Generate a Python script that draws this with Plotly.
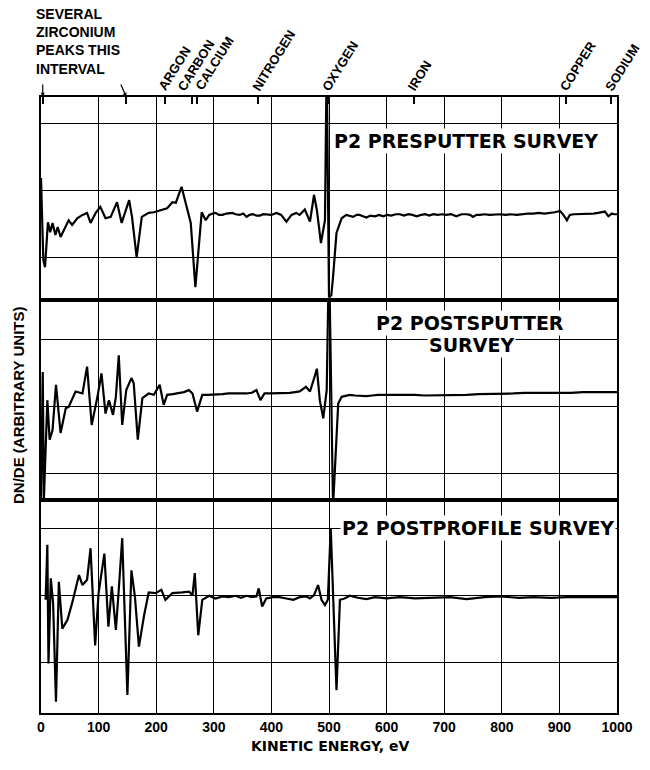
import plotly.graph_objects as go
from plotly.subplots import make_subplots

# ---------------- data (energy in eV, signal in grid divisions above panel bottom) -------------
P1_E = [0, 4, 7, 12, 16, 20, 25, 29, 34, 40, 48, 54, 63, 72, 80, 86, 95, 103, 112, 121, 132, 140,
        153, 158, 166, 175, 187, 196, 205, 212, 219, 228, 234, 244, 251, 260, 268, 275, 279, 286,
        292, 298, 303, 309, 315, 322, 332, 338, 345, 351, 357, 362, 368, 374, 380, 386, 391, 400,
        409, 417, 426, 435, 443, 449, 458, 467, 474, 479, 486, 493, 496, 500, 504, 507, 513, 522,
        530, 536, 542, 548, 553, 559, 565, 572, 580, 587, 594, 601, 608, 616, 623, 630, 638, 645,
        652, 660, 667, 674, 681, 689, 696, 704, 712, 721, 730, 739, 745, 750, 756, 762, 770, 779,
        788, 797, 806, 815, 826, 835, 845, 855, 864, 874, 884, 892, 901, 907, 913, 918, 925, 933,
        941, 950, 959, 967, 974, 979, 985, 991, 995, 1000]
P1_V = [1.82, 0.60, 0.49, 1.16, 1.01, 1.15, 0.97, 1.09, 0.94, 1.04, 1.19, 1.12, 1.22, 1.27, 1.30,
        1.15, 1.30, 1.39, 1.22, 1.24, 1.46, 1.15, 1.49, 1.24, 0.64, 1.24, 1.30, 1.31, 1.33, 1.35,
        1.37, 1.46, 1.45, 1.69, 1.46, 1.15, 0.19, 0.94, 1.31, 1.19, 1.27, 1.29, 1.30, 1.27, 1.27,
        1.29, 1.30, 1.28, 1.27, 1.29, 1.24, 1.27, 1.28, 1.26, 1.26, 1.28, 1.28, 1.27, 1.30, 1.27,
        1.17, 1.27, 1.30, 1.27, 1.35, 1.17, 1.57, 1.34, 0.85, 1.19, 3.60, 0.04, 0.07, 0.34, 1.00,
        1.22, 1.27, 1.25, 1.24, 1.27, 1.27, 1.25, 1.23, 1.26, 1.25, 1.27, 1.25, 1.27, 1.26, 1.28,
        1.28, 1.26, 1.28, 1.27, 1.25, 1.27, 1.28, 1.26, 1.28, 1.27, 1.28, 1.27, 1.28, 1.25, 1.28,
        1.28, 1.27, 1.24, 1.27, 1.27, 1.28, 1.27, 1.28, 1.28, 1.27, 1.28, 1.27, 1.28, 1.29, 1.29,
        1.30, 1.29, 1.30, 1.31, 1.33, 1.27, 1.19, 1.27, 1.28, 1.28, 1.28, 1.29, 1.29, 1.30, 1.31,
        1.32, 1.25, 1.29, 1.28, 1.28]

P2_E = [0, 3, 5, 8, 11, 15, 20, 26, 34, 43, 48, 60, 72, 80, 88, 98, 105, 112, 118, 125, 130, 135,
        141, 148, 157, 161, 168, 176, 187, 196, 206, 213, 219, 229, 239, 248, 257, 263, 271, 280,
        289, 298, 306, 315, 325, 338, 347, 357, 366, 374, 381, 388, 398, 409, 420, 432, 441, 449,
        460, 467, 475, 479, 484, 490, 496, 500, 507, 516, 522, 530, 536, 545, 555, 565, 575, 585,
        600, 615, 635, 650, 665, 681, 700, 720, 739, 760, 780, 797, 820, 840, 855, 880, 901, 920,
        941, 970, 1000]
P2_V = [0.00, 1.91, 0.00, 0.94, 1.49, 0.90, 1.04, 1.72, 1.00, 1.37, 1.39, 1.62, 1.59, 1.99, 1.12,
        1.54, 1.89, 1.29, 1.49, 1.27, 1.54, 2.16, 1.12, 1.64, 1.82, 1.74, 0.90, 1.52, 1.59, 1.57,
        1.72, 1.42, 1.57, 1.58, 1.60, 1.61, 1.64, 1.59, 1.32, 1.57, 1.57, 1.57, 1.58, 1.58, 1.59,
        1.59, 1.58, 1.59, 1.60, 1.64, 1.49, 1.59, 1.59, 1.59, 1.60, 1.60, 1.61, 1.62, 1.69, 1.62,
        1.84, 1.96, 1.49, 1.22, 1.64, 3.70, -0.10, 1.44, 1.54, 1.56, 1.57, 1.56, 1.55, 1.55, 1.56,
        1.57, 1.57, 1.57, 1.58, 1.57, 1.56, 1.56, 1.57, 1.57, 1.57, 1.58, 1.58, 1.58, 1.59, 1.60,
        1.60, 1.59, 1.59, 1.60, 1.61, 1.61, 1.61]

P3_E = [8, 11, 13, 17, 21, 26, 31, 37, 46, 54, 66, 72, 80, 86, 94, 100, 110, 117, 123, 130, 135,
        141, 150, 157, 163, 170, 179, 187, 199, 209, 216, 228, 245, 257, 263, 267, 273, 280, 292,
        303, 315, 326, 338, 347, 357, 366, 374, 378, 384, 391, 403, 414, 426, 438, 449, 461, 467,
        474, 481, 487, 493, 498, 503, 507, 513, 519, 527, 536, 550, 565, 580, 600, 623, 650, 681,
        710, 739, 770, 797, 830, 855, 885, 913, 950, 980, 1000]
P3_V = [1.69, 2.51, 0.74, 2.01, 1.64, 0.17, 1.96, 1.26, 1.39, 1.64, 2.06, 1.91, 1.99, 2.46, 1.01,
        1.79, 2.38, 1.29, 1.89, 1.24, 1.84, 2.61, 0.27, 2.13, 1.74, 0.99, 1.46, 1.80, 1.79, 1.84,
        1.69, 1.79, 1.80, 1.81, 1.76, 2.09, 1.16, 1.69, 1.75, 1.71, 1.74, 1.73, 1.75, 1.72, 1.75,
        1.73, 1.74, 1.86, 1.59, 1.71, 1.73, 1.73, 1.71, 1.69, 1.73, 1.74, 1.71, 1.76, 1.91, 1.69,
        1.61, 1.69, 2.76, 1.69, 0.34, 1.69, 1.71, 1.75, 1.72, 1.70, 1.73, 1.71, 1.73, 1.71, 1.72,
        1.73, 1.70, 1.73, 1.74, 1.72, 1.73, 1.72, 1.73, 1.73, 1.73, 1.73]

PANEL_TITLES = ["P2 PRESPUTTER SURVEY", "P2 POSTSPUTTER", "SURVEY", "P2 POSTPROFILE SURVEY"]
ELEMENTS = ["ARGON", "CARBON", "CALCIUM", "NITROGEN", "OXYGEN", "IRON", "COPPER", "SODIUM"]
ELEMENT_E = [215, 263, 270, 377, 499, 647, 912, 990]
ELEMENT_SHIFT = [-12, -21, -7, -12, -12, -12, -12, -12]
ZIRCONIUM_E = [3, 148]
X_TICKS = [0, 100, 200, 300, 400, 500, 600, 700, 800, 900, 1000]
X_TICK_LABELS = [str(v) for v in X_TICKS]
PANEL_TOPS = [3.03, 2.985, 3.18]
PANEL_GRID = [[0.64, 1.64, 2.64], [0.40, 1.40, 2.40], [0.75, 1.75, 2.75]]

BOLD = "Liberation Sans"
TITLE_FONT = "DejaVu Sans"

fig = make_subplots(rows=3, cols=1, shared_xaxes=True, vertical_spacing=0,
                    row_heights=[203, 200, 213])

for i, (ex, vy) in enumerate([(P1_E, P1_V), (P2_E, P2_V), (P3_E, P3_V)]):
    fig.add_trace(go.Scatter(x=ex, y=vy, mode="lines", line=dict(color="black", width=2.2),
                             showlegend=False, hoverinfo="skip"), row=i + 1, col=1)

for i in range(3):
    fig.update_yaxes(range=[0, PANEL_TOPS[i]], tickvals=PANEL_GRID[i], showticklabels=False,
                     ticks="", showgrid=True, gridcolor="black", gridwidth=1.3, zeroline=False,
                     showline=True, mirror=True, linecolor="black", linewidth=2,
                     row=i + 1, col=1)
    fig.update_xaxes(range=[0, 1000], tickvals=X_TICKS, ticktext=X_TICK_LABELS,
                     showticklabels=(i == 2), ticks="", showgrid=True, gridcolor="black",
                     gridwidth=1.3, zeroline=False, showline=True, mirror=True,
                     linecolor="black", linewidth=1.8,
                     tickfont=dict(family=BOLD, size=14, color="black", weight="bold"),
                     row=i + 1, col=1)

# top axis carrying the element marker ticks
fig.add_trace(go.Scatter(x=[None], y=[None], xaxis="x4", yaxis="y", showlegend=False,
                         hoverinfo="skip"))
fig.update_layout(xaxis4=dict(overlaying="x", anchor="y", side="top", range=[0, 1000],
                              tickvals=ELEMENT_E + ZIRCONIUM_E, ticks="inside", ticklen=7,
                              tickwidth=1.5, tickcolor="black", showticklabels=False,
                              showgrid=False, zeroline=False, showline=False))

ann = []
for name, e, sh in zip(ELEMENTS, ELEMENT_E, ELEMENT_SHIFT):
    ann.append(dict(x=e, xref="x", y=1, yref="paper", yanchor="bottom", xanchor="left",
                    xshift=sh, yshift=1, text=name, textangle=-58, showarrow=False,
                    font=dict(family=BOLD, size=13, color="black", weight="bold")))

ann.append(dict(x=0, xref="paper", xanchor="left", xshift=-7, y=1, yref="paper",
                yanchor="top", yshift=93, align="left", showarrow=False,
                text="SEVERAL<br>ZIRCONIUM<br>PEAKS THIS<br>INTERVAL",
                font=dict(family=BOLD, size=14, color="black", weight="bold")))
ann.append(dict(x=ZIRCONIUM_E[0], xref="x", y=PANEL_TOPS[0], yref="y", ax=0, ay=-14,
                text="", showarrow=True, arrowhead=2, arrowsize=0.7, arrowwidth=1.2,
                arrowcolor="black"))
ann.append(dict(x=ZIRCONIUM_E[1], xref="x", y=PANEL_TOPS[0], yref="y", ax=-6, ay=-14,
                text="", showarrow=True, arrowhead=2, arrowsize=0.7, arrowwidth=1.2,
                arrowcolor="black"))

tfont = dict(family=TITLE_FONT, size=19, color="black", weight="bold")
ann.append(dict(x=505, xref="x", y=2.37, yref="y", xanchor="left", yanchor="middle",
                text=PANEL_TITLES[0], showarrow=False, font=tfont, bgcolor="white"))
ann.append(dict(x=745, xref="x2", y=2.64, yref="y2", xanchor="center", yanchor="middle",
                text=PANEL_TITLES[1], showarrow=False, font=tfont, bgcolor="white"))
ann.append(dict(x=748, xref="x2", y=2.31, yref="y2", xanchor="center", yanchor="middle",
                text=PANEL_TITLES[2], showarrow=False, font=tfont, bgcolor="white"))
ann.append(dict(x=519, xref="x3", y=2.76, yref="y3", xanchor="left", yanchor="middle",
                text=PANEL_TITLES[3], showarrow=False, font=tfont, bgcolor="white"))

ann.append(dict(x=0.502, xref="paper", xanchor="center", y=0, yref="paper", yshift=-33,
                yanchor="middle", text="KINETIC ENERGY, eV", showarrow=False,
                font=dict(family=TITLE_FONT, size=14, color="black", weight="bold")))
ann.append(dict(x=0, xref="paper", xanchor="center", xshift=-23, y=0.5, yref="paper",
                yanchor="middle", textangle=-90, text="DN/DE (ARBITRARY UNITS)",
                showarrow=False,
                font=dict(family=BOLD, size=15, color="black", weight="bold")))

fig.update_layout(width=650, height=770, margin=dict(l=41, r=33, t=97, b=57),
                  plot_bgcolor="white", paper_bgcolor="white", annotations=ann,
                  showlegend=False)

fig.write_html("out.html", config={"displayModeBar": False},
               post_script="document.body.style.margin = '0px';")
